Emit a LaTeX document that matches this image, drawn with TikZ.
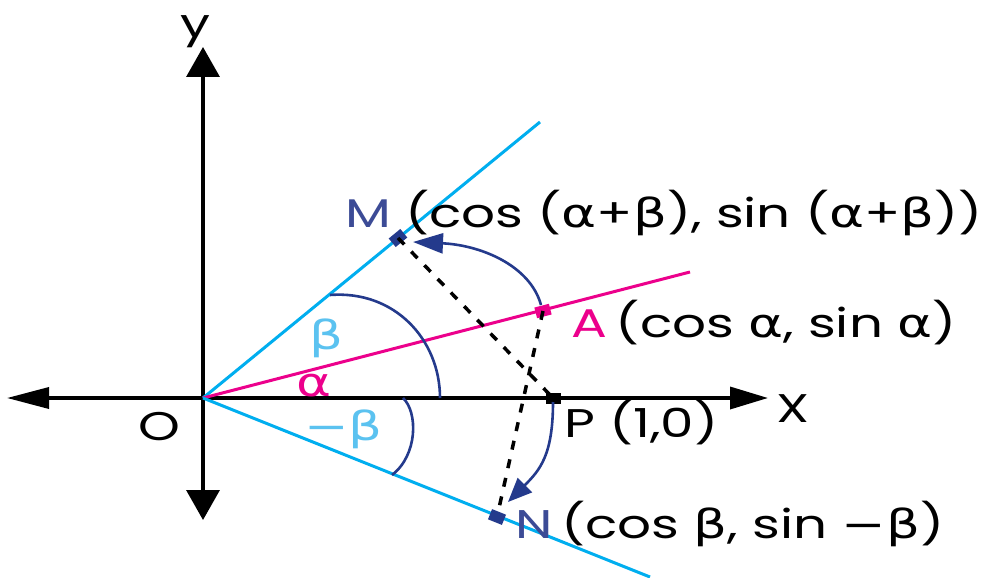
\documentclass[tikz,border=0pt]{standalone}
\usepackage{fontspec}
\setmainfont{Poppins}
\newfontfamily\grk{DejaVu Sans}
\usetikzlibrary{arrows.meta}
\definecolor{cyanl}{HTML}{00AEEF}
\definecolor{pinkl}{HTML}{EC008C}
\definecolor{navyl}{HTML}{243A8C}
\definecolor{lblue}{HTML}{5BC2F0}
\definecolor{mlab}{HTML}{3C4B96}
\newcommand{\gal}{{\grk α}}
\newcommand{\gbe}{{\grk β}}
\newcommand{\gmi}{{\grk −}}
\newcommand{\sx}[1]{\scalebox{1.33}[1]{#1}}
\begin{document}
\begin{tikzpicture}[x=1pt,y=-1pt,
  lab/.style={inner sep=0pt, font=\fontsize{40}{40}\selectfont, anchor=base west},
  axis/.style={line width=3.5pt, black},
  ray/.style={line width=3pt},
  arcs/.style={line width=2.6pt, navyl},
  dsh/.style={line width=3.5pt, black, dash pattern=on 9pt off 10pt},
  ptbox/.style={rectangle, inner sep=0pt, minimum width=15pt, minimum height=11pt}]
\useasboundingbox (0,0) rectangle (983,578);
\fill[white] (0,0) rectangle (983,578);
% axes
\coordinate (O) at (203,398);
\coordinate (xl) at (7,398);
\coordinate (xr) at (768,398);
\coordinate (yt) at (203,47);
\coordinate (yb) at (203,520);
\draw[axis, {Triangle[length=42pt,width=21pt]}-{Triangle[length=38pt,width=22pt]}] (xl) -- (xr);
\draw[axis, {Triangle[length=30pt,width=33pt]}-{Triangle[length=30pt,width=33pt]}] (yb) -- (yt);
% rays
\coordinate (Mend) at (540,122);
\coordinate (Aend) at (690,272);
\coordinate (Nend) at (650,577);
\draw[ray, cyanl] (O) -- (Mend);
\draw[ray, pinkl] (O) -- (Aend);
\draw[ray, cyanl] (O) -- (Nend);
% angle arcs
\coordinate (b1) at (330,295);
\coordinate (b2) at (440,398);
\draw[arcs] (b1) .. controls (395,290) and (440,340) .. (b2);
\coordinate (c1) at (403,398);
\coordinate (c2) at (392,475);
\draw[arcs] (c1) .. controls (418,412) and (418,455) .. (c2);
% points
\node[ptbox, fill=navyl, rotate=39.4] (M) at (398,238) {};
\node[ptbox, fill=pinkl, rotate=14.4] (A) at (543,311) {};
\node[ptbox, fill=black] (P) at (553,398) {};
\node[ptbox, fill=navyl, rotate=-22] (N) at (497,517) {};
% dashed chords
\draw[dsh] (M.center) -- (P.center);
\draw[dsh, shorten >=8pt] (A.center) -- (N.center);
% rotation arrows
\coordinate (a0) at (541,305);
\coordinate (mt) at (413,242);
\draw[arcs, -{Triangle[length=30pt,width=20pt]}] (a0) .. controls (530,265) and (480,245) .. (mt);
\coordinate (p0) at (553,402);
\coordinate (nt) at (508,502);
\draw[arcs, -{Triangle[length=24pt,width=20pt]}] (p0) .. controls (553,455) and (540,470) .. (nt);
% labels
\node[lab] (Ml) at (345,227) {\sx{\textcolor{mlab}{M} (cos (\gal+\gbe), sin (\gal+\gbe))}};
\node[lab] (Al) at (571,337) {\sx{\textcolor{pinkl}{A}\,(cos \gal, sin \gal)}};
\node[lab] (Pl) at (564,437) {\sx{P (1,0)}};
\node[lab] (Nl) at (515,538) {\sx{\textcolor{mlab}{N}\,(cos \gbe, sin \gmi\gbe)}};
\node[lab] (Xl) at (776,422) {\sx{X}};
\node[lab, anchor=base] (Yl) at (195,38) {\sx{y}};
\node[lab] (Ol) at (138,440) {\sx{O}};
\node[lab, text=lblue] (bl) at (309,349) {\sx{\gbe}};
\node[lab, text=pinkl] (al) at (296,396) {\sx{\gal}};
\node[lab, text=lblue] (mbl) at (304,440) {\sx{\gmi\gbe}};
\end{tikzpicture}
\end{document}
